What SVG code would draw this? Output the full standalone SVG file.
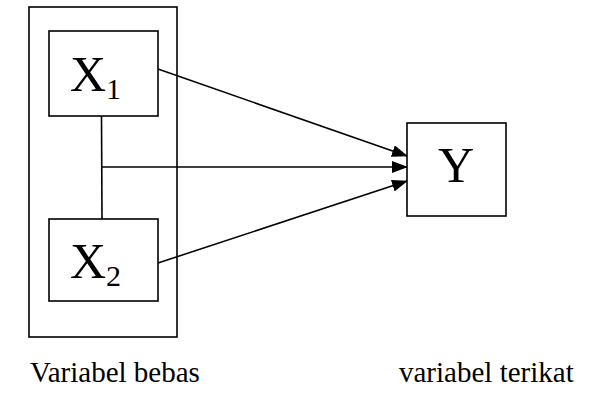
<svg xmlns="http://www.w3.org/2000/svg" width="594" height="394" viewBox="0 0 594 394">
<defs>
<marker id="ah" markerWidth="16" markerHeight="12" refX="15" refY="6" orient="auto" markerUnits="userSpaceOnUse">
<path d="M0,0 L16,6 L0,12 Z" fill="#000"/>
</marker>
<style>
.box{fill:#fff;stroke:#000;stroke-width:1.6}
.ln{fill:none;stroke:#000;stroke-width:1.6}
text{font-family:"Liberation Serif","DejaVu Serif",serif}
</style>
</defs>
<rect width="594" height="394" fill="#fff"/>
<g id="group-bebas">
<rect class="box" x="29" y="7" width="148" height="330"/>
</g>
<g id="connectors">
<line class="ln" x1="101.5" y1="116" x2="102" y2="219"/>
<line class="ln" x1="158" y1="69" x2="407" y2="156" marker-end="url(#ah)"/>
<line class="ln" x1="101.5" y1="167" x2="407" y2="167" marker-end="url(#ah)"/>
<line class="ln" x1="158" y1="263" x2="407" y2="181" marker-end="url(#ah)"/>
</g>
<g id="x1">
<rect class="box" x="49" y="31" width="109" height="85"/>
<text x="70" y="91" font-size="50" font-family="Liberation Serif">X<tspan font-size="30" dy="8">1</tspan></text>
</g>
<g id="x2">
<rect class="box" x="49" y="219" width="109" height="82"/>
<text x="70" y="278" font-size="50" font-family="Liberation Serif">X<tspan font-size="30" dy="8">2</tspan></text>
</g>
<g id="y">
<rect class="box" x="407" y="123" width="99" height="93"/>
<text x="456" y="182" font-size="50" text-anchor="middle" font-family="Liberation Serif">Y</text>
</g>
<text x="30" y="382" font-size="29" font-family="Liberation Serif">Variabel bebas</text>
<text x="399" y="382" font-size="29" font-family="Liberation Serif">variabel terikat</text>
</svg>
